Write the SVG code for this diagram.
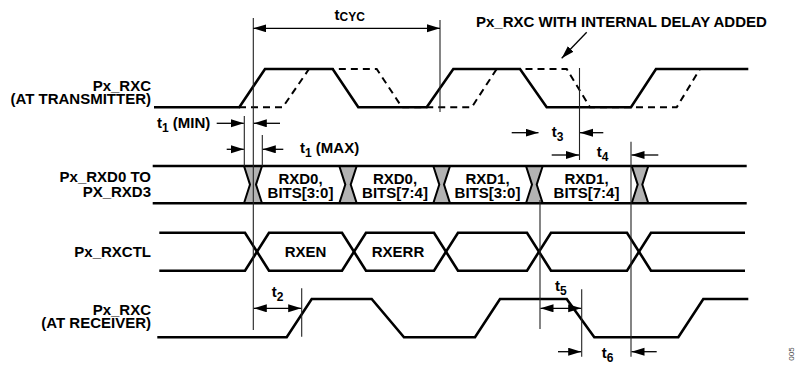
<svg xmlns="http://www.w3.org/2000/svg" width="796" height="367" viewBox="0 0 796 367">
<style>
text{font-family:"Liberation Sans",Arial,sans-serif;font-weight:bold;font-size:15px;fill:#000}
.lbl{text-anchor:end}
.mid{text-anchor:middle}
.sub{font-size:12px}
.wave{fill:none;stroke:#000;stroke-width:2.6;stroke-linejoin:miter}
.dash{fill:none;stroke:#000;stroke-width:2;stroke-dasharray:7 5}
.guide{stroke:#222;stroke-width:1.1;fill:none}
.arr{stroke:#000;stroke-width:1.3;fill:none;marker-end:url(#ah)}
.darr{stroke:#000;stroke-width:1.3;fill:none;marker-end:url(#ah);marker-start:url(#ahs)}
.gray{fill:#b3b3b3;stroke:none}
.edge{fill:none;stroke:#000;stroke-width:2}
.fig{font-family:"Liberation Sans",Arial,sans-serif;font-weight:normal;font-size:8px;fill:#444}
</style>
<defs>
<marker id="ah" markerUnits="userSpaceOnUse" markerWidth="14" markerHeight="9" refX="13" refY="4" orient="auto"><path d="M0,0 L13,4 L0,8 z" fill="#000"/></marker>
<marker id="ahs" markerUnits="userSpaceOnUse" markerWidth="14" markerHeight="9" refX="13" refY="4" orient="auto-start-reverse"><path d="M0,0 L13,4 L0,8 z" fill="#000"/></marker>
</defs>

<g id="labels">
<text class="lbl"><tspan x="151" y="90.7">Px_RXC</tspan><tspan x="151" y="103.5">(AT TRANSMITTER)</tspan></text>
<text class="lbl"><tspan x="151" y="182">Px_RXD0 TO</tspan><tspan x="151" y="197">PX_RXD3</tspan></text>
<text class="lbl" x="151" y="256.7">Px_RXCTL</text>
<text class="lbl"><tspan x="151" y="314.5">Px_RXC</tspan><tspan x="151" y="328">(AT RECEIVER)</tspan></text>
</g>

<g id="tx-clock">
<path class="dash" d="M239,107.3 L282.7,107.3 L309,69 L376.7,69 L402,107.3 L471.7,107.3 L496.7,69 L566.7,69 L590,107.3 L676.7,107.3 L700,69 L748,69"/>
<path class="wave" d="M154,107.3 L239.3,107.3 L265,69 L332.7,69 L358.3,107.3 L426.7,107.3 L453.3,69 L520,69 L546.7,107.3 L631,107.3 L656,69 L748.3,69"/>
</g>

<g id="data-bus">
<polygon class="gray" points="244,166 262,166 256,184.6 262,203.3 244,203.3 250,184.6"/>
<polygon class="gray" points="339.3,166 356.7,166 350.7,184.6 356.7,203.3 339.3,203.3 345.3,184.6"/>
<polygon class="gray" points="433.3,166 450,166 444,184.6 450,203.3 433.3,203.3 439.3,184.6"/>
<polygon class="gray" points="526,166 542.7,166 536.7,184.6 542.7,203.3 526,203.3 532,184.6"/>
<polygon class="gray" points="631.7,166 648.3,166 642.3,184.6 648.3,203.3 631.7,203.3 637.7,184.6"/>
<path class="edge" d="M244,166 L250,184.6 L244,203.3 M262,166 L256,184.6 L262,203.3 M339.3,166 L345.3,184.6 L339.3,203.3 M356.7,166 L350.7,184.6 L356.7,203.3 M433.3,166 L439.3,184.6 L433.3,203.3 M450,166 L444,184.6 L450,203.3 M526,166 L532,184.6 L526,203.3 M542.7,166 L536.7,184.6 L542.7,203.3 M631.7,166 L637.7,184.6 L631.7,203.3 M648.3,166 L642.3,184.6 L648.3,203.3"/>
<path class="wave" d="M152.7,166 L746.7,166 M152.7,203.3 L746.7,203.3"/>
<text class="mid"><tspan x="300.5" y="184">RXD0,</tspan><tspan x="300.5" y="198.3">BITS[3:0]</tspan></text>
<text class="mid"><tspan x="395" y="184">RXD0,</tspan><tspan x="395" y="198.3">BITS[7:4]</tspan></text>
<text class="mid"><tspan x="487.5" y="184">RXD1,</tspan><tspan x="487.5" y="198.3">BITS[3:0]</tspan></text>
<text class="mid"><tspan x="586.5" y="184">RXD1,</tspan><tspan x="586.5" y="198.3">BITS[7:4]</tspan></text>
</g>

<g id="rxctl">
<path class="wave" d="M159.3,232.7 L245,232.7 L269,270.7 L342,270.7 L366,232.7 L434,232.7 L458,270.7 L527,270.7 L551,232.7 L627,232.7 L651,270.7 L745,270.7"/>
<path class="wave" d="M159.3,270.7 L245,270.7 L269,232.7 L342,232.7 L366,270.7 L434,270.7 L458,232.7 L527,232.7 L551,270.7 L627,270.7 L651,232.7 L745,232.7"/>
<text class="mid" x="305.5" y="256.7">RXEN</text>
<text class="mid" x="398" y="256.7">RXERR</text>
</g>

<g id="rx-clock">
<path class="wave" d="M157.3,337.3 L286.7,337.3 L311.7,299 L371.7,299 L404,337.3 L475,337.3 L500,299 L566.7,299 L594.3,337.3 L678.3,337.3 L703.3,299 L748.3,299"/>
</g>

<g id="connectors">
<path class="guide" d="M244.3,116 L244.3,166 M253.3,18 L253.3,330 M262.3,135 L262.3,166 M440,20 L440,112 M579.5,68 L579.5,160 M540,200 L540,329 M631,141.7 L631,356.7 M301.7,288.3 L301.7,336.7 M581.7,289.3 L581.7,356.7"/>
<line class="darr" x1="253.3" y1="28.3" x2="440" y2="28.3"/>
<line class="arr" x1="586.7" y1="32.3" x2="561.7" y2="58.3"/>
<line class="arr" x1="216.7" y1="123.3" x2="243.8" y2="123.3"/>
<line class="arr" x1="280" y1="123.3" x2="253.8" y2="123.3"/>
<line class="arr" x1="226.7" y1="149.3" x2="243.8" y2="149.3"/>
<line class="arr" x1="283.3" y1="149.3" x2="262.8" y2="149.3"/>
<line class="arr" x1="511.7" y1="132.7" x2="538.5" y2="132.7"/>
<line class="arr" x1="603.3" y1="132.7" x2="580" y2="132.7"/>
<line class="arr" x1="551.7" y1="155" x2="579" y2="155"/>
<line class="arr" x1="658.3" y1="155" x2="631.5" y2="155"/>
<line class="darr" x1="253.8" y1="308.3" x2="301.2" y2="308.3"/>
<line class="darr" x1="540.5" y1="308.3" x2="581.2" y2="308.3"/>
<line class="arr" x1="558" y1="351.7" x2="581.2" y2="351.7"/>
<line class="arr" x1="656.7" y1="351.7" x2="631.5" y2="351.7"/>
</g>

<g id="timing-labels">
<text x="334.5" y="20">t<tspan class="sub" dy="1">CYC</tspan></text>
<text x="476" y="26.7">Px_RXC WITH INTERNAL DELAY ADDED</text>
<text x="157" y="128">t<tspan class="sub" dy="4">1</tspan><tspan dy="-4"> (MIN)</tspan></text>
<text x="300" y="153.3">t<tspan class="sub" dy="4">1</tspan><tspan dy="-4"> (MAX)</tspan></text>
<text x="551.7" y="136.5">t<tspan class="sub" dy="4">3</tspan></text>
<text x="596.7" y="157">t<tspan class="sub" dy="4">4</tspan></text>
<text x="271.7" y="296.7">t<tspan class="sub" dy="4">2</tspan></text>
<text x="555" y="291">t<tspan class="sub" dy="4">5</tspan></text>
<text x="601.7" y="358">t<tspan class="sub" dy="4">6</tspan></text>
<text class="fig" transform="translate(794,354) rotate(-90)" text-anchor="middle">005</text>
</g>
</svg>
